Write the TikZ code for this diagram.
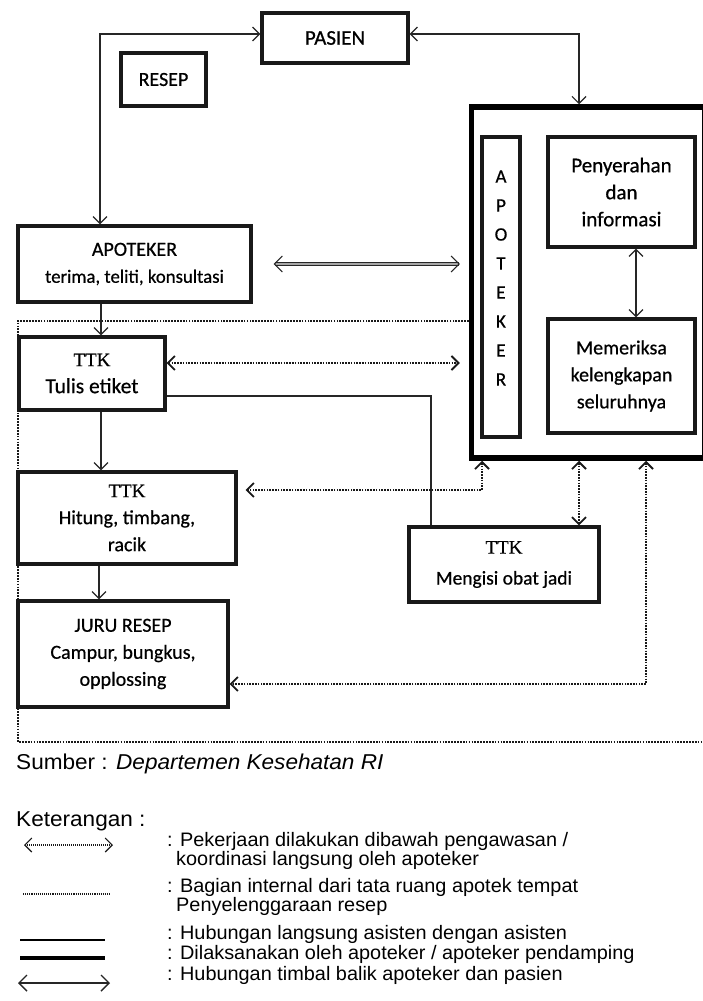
\documentclass[tikz,border=0pt]{standalone}
\usepackage{fontspec}
\setmainfont{Carlito}[FakeBold=0.6]
\newfontfamily\ttkserif{Liberation Serif}[FakeBold=0.5]
\newfontfamily\arialfam{Liberation Sans}[FakeStretch=1.02]
\newfontfamily\arialsrc{Liberation Sans}[FakeStretch=1.05]
\usetikzlibrary{arrows.meta}
\newcommand\boxfnt{\fontsize{20}{27}\selectfont}
\newcommand\legfnt{\arialfam\fontsize{19.5}{19.5}\selectfont}
\newcommand\TTK{{\ttkserif\fontsize{19}{27}\selectfont TTK}}
\newcommand\fs[1]{\fontsize{#1}{27}\selectfont}
\tikzset{
  box/.style={draw=black!90, line width=3.2pt, inner sep=0pt, align=center, font=\boxfnt},
  bigbox/.style={draw=black, line width=5.5pt, inner sep=0pt},
  conn/.style={draw=black!85, line width=1.2pt},
  dotconn/.style={draw=black!90, line width=1.8pt, dash pattern=on 1.6pt off 1.2pt},
  region/.style={draw=black!90, line width=2.2pt, dash pattern=on 1.7pt off 1.2pt},
  dbl/.style={draw=black!85, line width=1pt, double=black!35, double distance=1.4pt},
  legtxt/.style={anchor=west, align=left, inner sep=0pt, font=\legfnt},
  srctxt/.style={anchor=west, inner sep=0pt, font=\arialsrc\fontsize{21.5}{24}\selectfont}
}
\begin{document}
\begin{tikzpicture}[x=1pt,y=-1pt,>={Straight Barb[length=7pt,width=14pt]}]
\clip (0,0) rectangle (703,1001);
\fill[white] (0,0) rectangle (703,1001);

% boxes
\node[box, minimum width=146pt, minimum height=50pt, font=\fs{21}] (pasien) at (335,38) {PASIEN};
\node[box, minimum width=85pt, minimum height=53pt] (resep) at (163.5,79.5) {RESEP};
\node[box, minimum width=233pt, minimum height=76pt] (apotk) at (134.5,264) {APOTEKER\\{\fs{18.8}terima, teliti, konsultasi}};
\node[bigbox, minimum width=233pt, minimum height=351pt] (big) at (588,282.5) {};
\node[box, minimum width=38pt, minimum height=300pt] (vert) at (501,287) {};
\node[inner sep=0pt, align=center, font=\fontsize{19}{29}\selectfont] (vertlbl) at (501,278) {A\\P\\O\\T\\E\\K\\E\\R};
\node[box, minimum width=147pt, minimum height=110pt, font=\fs{21}] (peny) at (621.5,192) {Penyerahan\\dan\\informasi};
\node[box, minimum width=147pt, minimum height=114pt] (mem) at (621.5,376) {Memeriksa\\kelengkapan\\seluruhnya};
\node[box, minimum width=146pt, minimum height=73pt] (ttk1) at (92,373.5) {\TTK\\{\fs{21.5}Tulis etiket}};
\node[box, minimum width=218pt, minimum height=92pt] (ttk2) at (127,518) {\TTK\\Hitung, timbang,\\racik};
\node[box, minimum width=210pt, minimum height=106pt] (juru) at (123,654) {JURU RESEP\\Campur, bungkus,\\opplossing};
\node[box, minimum width=190pt, minimum height=75pt, font=\fontsize{19.5}{31}\selectfont] (mengisi) at (504,564.5) {\TTK\\Mengisi obat jadi};

% helper coordinates
\coordinate (xL) at (100,0);
\coordinate (xR) at (579,0);
\coordinate (xD) at (101,0);
\coordinate (xD2) at (99,0);
\coordinate (yA) at (0,363);
\coordinate (yB) at (0,396);
\coordinate (xM) at (431,0);
\coordinate (x1) at (482,0);
\coordinate (yC) at (0,490);
\coordinate (x2) at (579,0);
\coordinate (x3) at (646,0);
\coordinate (yD) at (0,684);
\coordinate (x4) at (636,0);
\coordinate (r1) at (18,321);
\coordinate (r2) at (18,742);
\coordinate (r3) at (703,742);

% region
\draw[region] (big.west |- r1) -- (r1) -- (r2) -- (r3);

% connectors
\draw[conn,<->] ([yshift=4pt]pasien.west) -| (apotk.north -| xL);
\draw[conn,<->] ([yshift=4pt]pasien.east) -| (big.north -| xR);
\draw[conn,->] (apotk.south -| xD) -- (ttk1.north -| xD);
\draw[conn,->] (ttk1.south -| xD) -- (ttk2.north -| xD);
\draw[conn,->] (ttk2.south -| xD2) -- (juru.north -| xD2);
\draw[dbl,<->,>={Straight Barb[length=8pt,width=16pt]},shorten <=21pt,shorten >=9pt] (apotk.east) -- (big.west |- apotk.east);
\draw[dotconn,<->,shorten >=9pt] (ttk1.east |- yA) -- (big.west |- yA);
\draw[conn,line width=1.4pt] (ttk1.east |- yB) -| (mengisi.north -| xM);
\draw[dotconn,<->,shorten >=8pt] (big.south -| x1) |- (ttk2.east |- yC);
\draw[dotconn,<->] (big.south -| x2) -- (mengisi.north -| x2);
\draw[dotconn,<->] (big.south -| x3) |- (juru.east |- yD);
\draw[conn,<->] (peny.south -| x4) -- (mem.north -| x4);

% source and legend
\node[srctxt] (sumber) at (16,764) {Sumber : \textit{Departemen Kesehatan RI}};
\node[srctxt] (ket) at (16,821) {Keterangan :};

\coordinate (l1a) at (24,845); \coordinate (l1b) at (113,845);
\coordinate (l2a) at (23,894); \coordinate (l2b) at (110,894);
\coordinate (l3a) at (20,940); \coordinate (l3b) at (105,940);
\coordinate (l4a) at (20,958); \coordinate (l4b) at (105,958);
\coordinate (l5a) at (18,983); \coordinate (l5b) at (110,983);
\draw[dotconn,line width=1.1pt,dash pattern=on 1pt off 1pt,<->] (l1a) -- (l1b);
\draw[dotconn,line width=1.4pt,dash pattern=on 1.1pt off 1pt] (l2a) -- (l2b);
\draw[draw=black,line width=2.2pt] (l3a) -- (l3b);
\draw[draw=black,line width=4.2pt] (l4a) -- (l4b);
\draw[conn,line width=1.4pt,<->,>={Straight Barb[length=8pt,width=16pt]}] (l5a) -- (l5b);

\node[legtxt] (t1) at (167,851) {: Pekerjaan dilakukan dibawah pengawasan /\\\hspace*{9pt}koordinasi langsung oleh apoteker};
\node[legtxt] (t2) at (167,897) {: Bagian internal dari tata ruang apotek tempat\\\hspace*{9pt}Penyelenggaraan resep};
\node[legtxt] (t3) at (167,934) {: Hubungan langsung asisten dengan asisten};
\node[legtxt] (t4) at (167,954) {: Dilaksanakan oleh apoteker / apoteker pendamping};
\node[legtxt] (t5) at (167,975) {: Hubungan timbal balik apoteker dan pasien};
\end{tikzpicture}
\end{document}
